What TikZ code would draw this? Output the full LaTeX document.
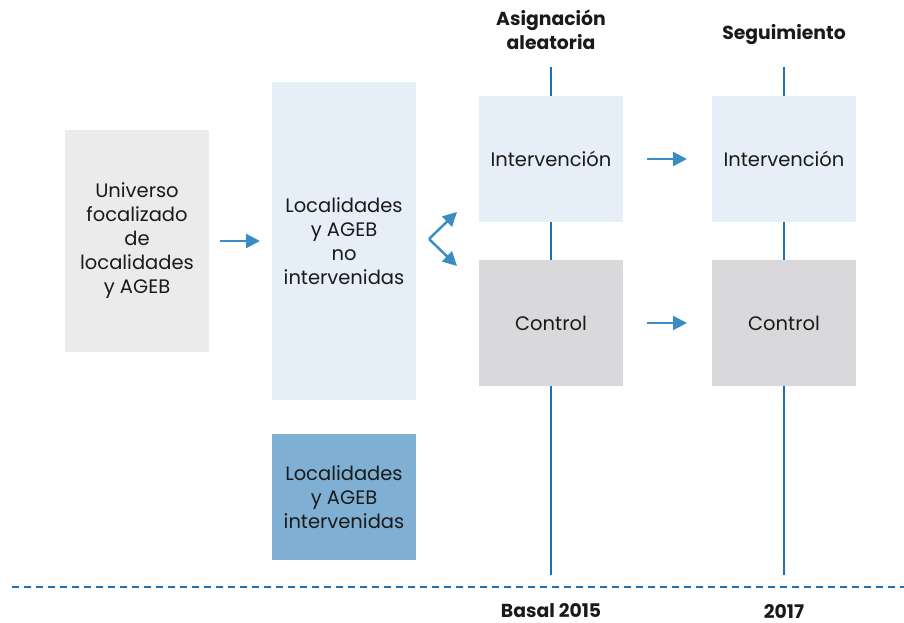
\documentclass[tikz,border=0pt]{standalone}
\usepackage{fontspec}
\setmainfont{Poppins}
\usetikzlibrary{arrows.meta}
\definecolor{lgray}{HTML}{EBEBEB}
\definecolor{lblue}{HTML}{E6EEF7}
\definecolor{mblue}{HTML}{7FB0D4}
\definecolor{cgray}{HTML}{D9D9DB}
\definecolor{tline}{HTML}{1F6FB2}
\definecolor{arr}{HTML}{3A8CC4}
\definecolor{txt}{HTML}{1A1A1A}
\begin{document}
\begin{tikzpicture}[x=1pt,y=-1pt,
  box/.style={anchor=north west,inner sep=0pt,outer sep=0pt,minimum width=144pt,align=center,text=txt,font=\fontsize{19.5}{24}\selectfont},
  head/.style={align=center,inner sep=0pt,text=txt,font=\fontsize{18.8}{24}\selectfont\bfseries},
  tl/.style={draw=tline,line width=2.2pt},
  ar/.style={draw=arr,line width=2.4pt,-{Triangle[length=14pt,width=14pt]}}]
\useasboundingbox (0,0) rectangle (904,623);
% time lines
\coordinate (t1a) at (551,67); \coordinate (t1b) at (551,575);
\coordinate (t2a) at (784,67); \coordinate (t2b) at (784,575);
\draw[tl] (t1a) -- (t1b);
\draw[tl] (t2a) -- (t2b);
\coordinate (d1) at (12,587); \coordinate (d2) at (904,587);
\draw[tl,dash pattern=on 7pt off 5pt] (d1) -- (d2);
% boxes
\node[box,fill=lgray,minimum height=222pt] (u) at (65,130) {Universo\\focalizado\\de\\localidades\\y AGEB};
\node[box,fill=lblue,minimum height=318pt] (n) at (272,82) {Localidades\\y AGEB\\no\\intervenidas};
\node[box,fill=mblue,minimum height=126pt] (i) at (272,434) {Localidades\\y AGEB\\intervenidas};
\node[box,fill=lblue,minimum height=126pt] (a1) at (479,96) {Intervención};
\node[box,fill=cgray,minimum height=126pt] (c1) at (479,260) {Control};
\node[box,fill=lblue,minimum height=126pt] (a2) at (712,96) {Intervención};
\node[box,fill=cgray,minimum height=126pt] (c2) at (712,260) {Control};
% headers
\node[head] (h1) at (551,30) {Asignación\\aleatoria};
\node[head] (h2) at (784,35) {Seguimiento};
\node[head] (b1) at (551,611) {Basal 2015};
\node[head] (b2) at (784,611) {2017};
% arrows
\draw[ar] ([xshift=11pt]u.east) -- ([xshift=-12pt]n.west |- u.east);
\draw[ar] ([xshift=24pt]a1.east) -- ([xshift=-25pt]a2.west);
\draw[ar] ([xshift=24pt]c1.east) -- ([xshift=-25pt]c2.west);
\coordinate (fk) at (429,239);
\draw[ar] (fk) -- (457,212);
\draw[ar] (fk) -- (457,266);
\end{tikzpicture}
\end{document}
